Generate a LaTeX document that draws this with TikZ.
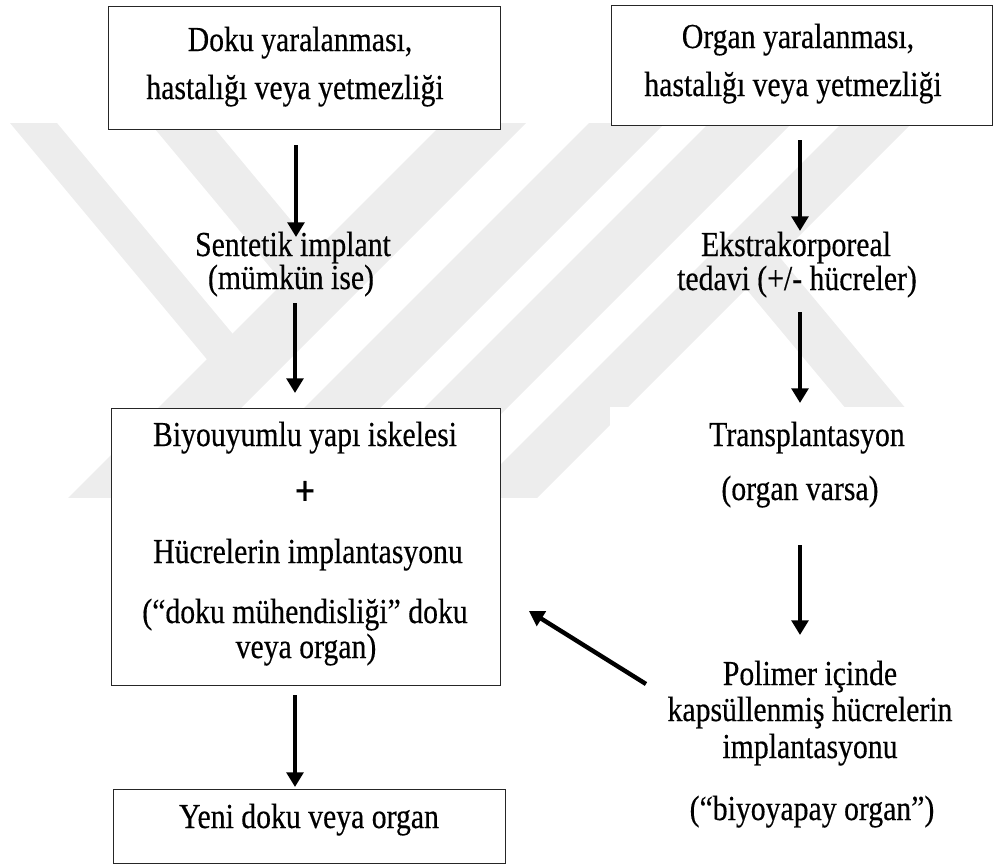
\documentclass[tikz,border=0pt]{standalone}
\usepackage{graphicx}
\usepackage{fontspec}
\setmainfont{Liberation Serif}
\newfontfamily\diagfont{Liberation Serif}[FakeBold=0.4]
\usetikzlibrary{arrows.meta}
% slightly tall lettering
\newcommand{\tallline}[1]{\scalebox{1}[1.18]{#1}}
\begin{document}
\begin{tikzpicture}[x=0.75pt,y=-0.75pt,
  wm/.style={fill=black!7,draw=none},
  box/.style={draw=black!85,line width=0.9pt,fill=white,anchor=north west,inner sep=0pt},
  lbl/.style={anchor=base,inner sep=0pt,font=\diagfont\fontsize{22.3}{26}\selectfont},
  arr/.style={line width=3.3pt,-{Triangle[width=12.5pt,length=11pt]}}]
\useasboundingbox (0,0) rectangle (993,864);

% faint background emblem
\begin{scope}
  \clip (0,123) rectangle (993,497);
  \fill[wm] (10,123) -- (57,123) -- (254.5,360) -- (207.5,360) -- cycle;
  \fill[wm] (150,123) -- (210,123) -- (349,290) -- (289,290) -- cycle;
  \fill[wm] (443,123) -- (526,123) -- (149,500) -- (66,500) -- cycle;
  \fill[wm] (589,123) -- (665,123) -- (288,500) -- (212,500) -- cycle;
  \fill[wm] (709,123) -- (792,123) -- (415,500) -- (332,500) -- cycle;
  \fill[wm] (842,123) -- (912,123) -- (535,500) -- (465,500) -- cycle;
  \fill[wm] (718.7,256) -- (778.7,256) -- (982,500) -- (922,500) -- cycle;
\end{scope}

% boxes
\node[box,minimum width=294pt,minimum height=92.25pt] (b1) at (108,6) {};
\node[box,minimum width=285.75pt,minimum height=90pt] (b2) at (611,5) {};
\node[box,minimum width=291.75pt,minimum height=207.75pt] (b3) at (111,408) {};
\node[box,minimum width=294pt,minimum height=55.5pt] (b4) at (113,789) {};
\node[fill=white,draw=none,anchor=north west,inner sep=0pt,
      minimum width=287.25pt,minimum height=77pt] (tbg) at (610,407) {};

% texts
\node[lbl] (t1a) at (300,51) {\tallline{Doku yaralanması,}};
\node[lbl] (t1b) at (295,99) {\tallline{hastalığı veya yetmezliği}};
\node[lbl] (t2a) at (798,48) {\tallline{Organ yaralanması,}};
\node[lbl] (t2b) at (793,96) {\tallline{hastalığı veya yetmezliği}};
\node[lbl] (t3a) at (293,256) {\tallline{Sentetik implant}};
\node[lbl] (t3b) at (291,289) {\tallline{(mümkün ise)}};
\node[lbl] (t4a) at (796,256) {\tallline{Ekstrakorporeal}};
\node[lbl] (t4b) at (797,290) {\tallline{tedavi (+/- hücreler)}};
\node[lbl] (t5a) at (305,446) {\tallline{Biyouyumlu yapı iskelesi}};
\node[lbl,font=\diagfont\fontsize{27}{30}\selectfont] (t5b) at (305,505) {\tallline{\textbf{+}}};
\node[lbl] (t5c) at (308,563) {\tallline{Hücrelerin implantasyonu}};
\node[lbl] (t5d) at (305,623) {\tallline{(“doku mühendisliği” doku}};
\node[lbl] (t5e) at (306,658) {\tallline{veya organ)}};
\node[lbl] (t6) at (309,828) {\tallline{Yeni doku veya organ}};
\node[lbl] (t7a) at (807,446) {\tallline{Transplantasyon}};
\node[lbl] (t7b) at (800,500) {\tallline{(organ varsa)}};
\node[lbl] (t8a) at (810,685) {\tallline{Polimer içinde}};
\node[lbl] (t8b) at (810,721) {\tallline{kapsüllenmiş hücrelerin}};
\node[lbl] (t8c) at (810,758) {\tallline{implantasyonu}};
\node[lbl] (t8d) at (812,820) {\tallline{(“biyoyapay organ”)}};

% arrow ends
\coordinate (a1s) at (296,145); \coordinate (a1e) at (296,237);
\coordinate (a2s) at (295,303); \coordinate (a2e) at (295,393);
\coordinate (a3s) at (295,695); \coordinate (a3e) at (295,787);
\coordinate (a4s) at (800,140); \coordinate (a4e) at (800,231);
\coordinate (a5s) at (800,312); \coordinate (a5e) at (800,403);
\coordinate (a6s) at (800,545); \coordinate (a6e) at (800,635);
\coordinate (a7s) at (646,684); \coordinate (a7e) at (529,611);

\draw[arr] (a1s) -- (a1e);
\draw[arr] (a2s) -- (a2e);
\draw[arr] (a3s) -- (a3e);
\draw[arr] (a4s) -- (a4e);
\draw[arr] (a5s) -- (a5e);
\draw[arr] (a6s) -- (a6e);
\draw[arr] (a7s) -- (a7e);
\end{tikzpicture}
\end{document}
